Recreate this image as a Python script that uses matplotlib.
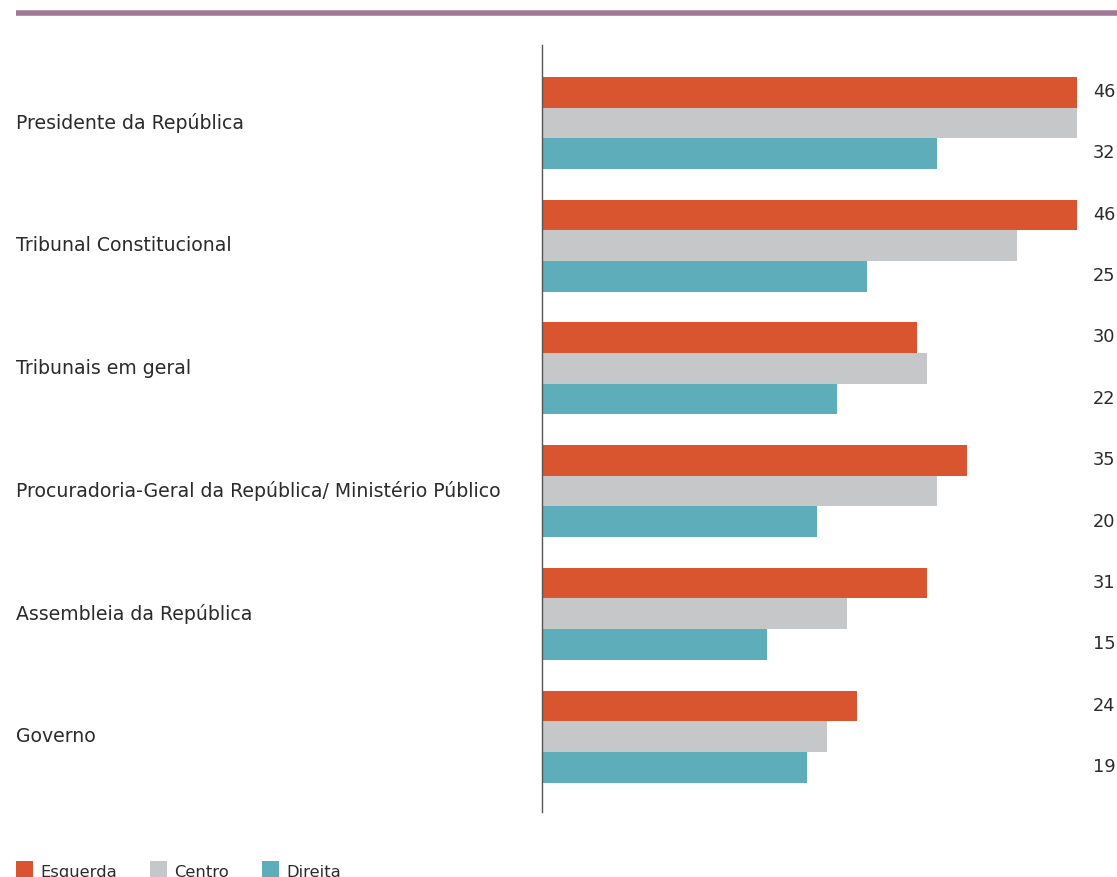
import matplotlib

matplotlib.use("Agg")
import matplotlib.pyplot as plt
import numpy as np
from matplotlib.patches import Rectangle
from matplotlib.lines import Line2D
from matplotlib.transforms import blended_transform_factory

categories = [
    "Presidente da República",
    "Tribunal Constitucional",
    "Tribunais em geral",
    "Procuradoria-Geral da República/ Ministério Público",
    "Assembleia da República",
    "Governo",
]
esquerda = [46, 46, 30, 35, 31, 24]
centro = [46, 40, 31, 32, 23, 21]
direita = [32, 25, 22, 20, 15, 19]
series_names = ["Esquerda", "Centro", "Direita"]

COLORS = ["#D9552F", "#C6C7C9", "#5EADBA"]
INK = "#2B2B2B"
XMIN = -7.5

plt.rcParams["font.family"] = ["DejaVu Sans"]

W, H = 1117, 878
fig = plt.figure(figsize=(W / 100, H / 100), dpi=100)
fig.patch.set_facecolor("white")

# axes frame in pixel terms: left axis line at x=542, value 46 ends at x=1077
ax = fig.add_axes([542 / W, (H - 813) / H, (1077 - 542) / W, (813 - 46) / H])
ax.set_xlim(XMIN, 46)
ax.set_ylim(5.625, -0.625)

y = np.arange(len(categories))
h = 0.25
for i, (vals, c) in enumerate(zip([esquerda, centro, direita], COLORS)):
    vals = np.array(vals)
    ax.barh(y + (i - 1) * h + 0.01, vals - XMIN, left=XMIN, height=h, color=c, linewidth=0)

# value labels only for Esquerda and Direita
for yi, e, d in zip(y, esquerda, direita):
    ax.text(1.03, yi - h, f"{e}", transform=ax.get_yaxis_transform(), ha="left", va="center",
            fontsize=12.8, color=INK, clip_on=False)
    ax.text(1.03, yi + h, f"{d}", transform=ax.get_yaxis_transform(), ha="left", va="center",
            fontsize=12.8, color=INK, clip_on=False)

ax.set_yticks(y)
ax.set_yticklabels([])
label_tr = blended_transform_factory(fig.transFigure, ax.transData)
for yi, cat in zip(y, categories):
    ax.text(16 / W, yi, cat, transform=label_tr, ha="left", va="center", fontsize=13.6, color=INK)

ax.set_xticks([])
ax.tick_params(left=False)
for s in ["top", "right", "bottom"]:
    ax.spines[s].set_visible(False)
ax.spines["left"].set_color("#555555")
ax.spines["left"].set_linewidth(1.0)

# top rule
fig.add_artist(Line2D([16 / W, 1.0], [(H - 13.5) / H] * 2, color="#A07A95", lw=4,
                      solid_capstyle="butt", transform=fig.transFigure))

# legend along the bottom edge
for name, c, x0 in zip(series_names, COLORS, [16, 150, 262]):
    fig.add_artist(Rectangle((x0 / W, 0), 17 / W, 16 / H, transform=fig.transFigure, facecolor=c, edgecolor="none"))
    fig.text((x0 + 24) / W, 1 / H, name, fontsize=11.8, color=INK, va="baseline", ha="left")

fig.savefig("out.png", dpi=100, facecolor="white")
